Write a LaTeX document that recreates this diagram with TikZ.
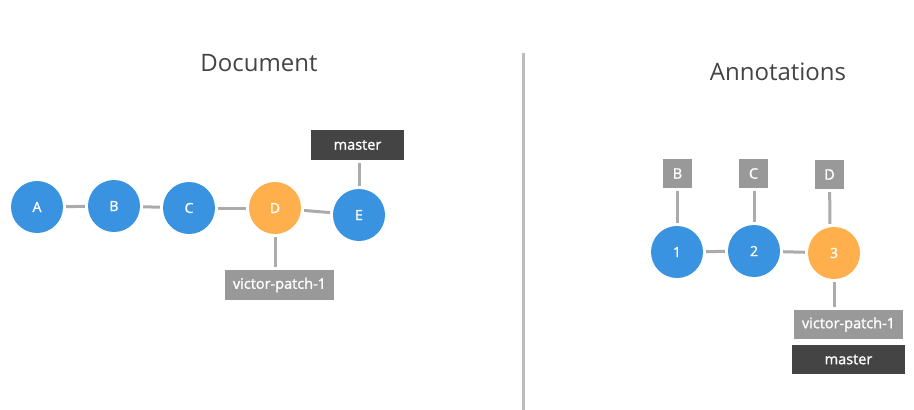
\documentclass[tikz,border=0pt]{standalone}
\usepackage{fontspec}
\setmainfont{Open Sans}
\newfontfamily\labelfont[FakeBold=1.3]{Open Sans}
\usepackage{tikz}
\definecolor{commitblue}{HTML}{3A93E0}
\definecolor{commitorange}{HTML}{FFB04C}
\definecolor{refgray}{HTML}{999999}
\definecolor{refdark}{HTML}{444444}
\definecolor{linkgray}{HTML}{ABABAB}
\definecolor{titlegray}{HTML}{444444}
\tikzset{
	commit/.style={circle, fill=commitblue, text=white, minimum size=52pt, inner sep=0pt, font=\labelfont\fontsize{14}{16}\selectfont},
	patched/.style={commit, fill=commitorange},
	refbox/.style={fill=refgray, text=white, minimum height=30pt, inner sep=0pt, font=\labelfont\fontsize{14.5}{16}\selectfont},
	headbox/.style={refbox, fill=refdark},
	link/.style={draw=linkgray, line width=3pt, shorten >=3pt, shorten <=3pt},
	title/.style={text=titlegray, font=\fontsize{24}{28}\selectfont}
}

\begin{document}
\begin{tikzpicture}[x=1pt, y=-1pt]
		\useasboundingbox (0,0) rectangle (914,410);
		%Titoli
		\node [title] (tdoc) at (259,63) {Document};
		\node [title] (tann) at (778,72) {Annotations};
		%Separatore
		\coordinate (septop) at (523,53);
		\coordinate (sepbot) at (523,410);
		\draw [draw=linkgray!80, line width=3pt] (septop) -- (sepbot);
		%Documento
		\node [commit] (A) at (37,207) {A};
		\node [commit] (B) at (114,206) {B};
		\node [commit] (C) at (189,208) {C};
		\node [patched] (D) at (275,208) {D};
		\node [commit] (E) at (359,215) {E};
		\node [headbox, minimum width=93pt] (mast) at (357.5,145) {master};
		\node [refbox, minimum width=109pt] (vp) at (279.5,285) {victor-patch-1};
		\draw [link] (A) -- (B);
		\draw [link] (B) -- (C);
		\draw [link] (C) -- (D);
		\draw [link] (D) -- (E);
		\draw [link] (E) -- (E |- mast.south);
		\draw [link] (D) -- (D |- vp.north);
		%Annotazioni
		\node [commit] (n1) at (677,252) {1};
		\node [commit] (n2) at (754,251) {2};
		\node [patched] (n3) at (834,253) {3};
		\node [refbox, minimum width=29pt, minimum height=29pt] (rB) at (677.5,173.5) {B};
		\node [refbox, minimum width=29pt, minimum height=29pt] (rC) at (753.5,173.5) {C};
		\node [refbox, minimum width=29pt, minimum height=29pt] (rD) at (829.5,174.5) {D};
		\node [refbox, minimum width=109pt, minimum height=29pt] (avp) at (848.5,324.5) {victor-patch-1};
		\node [headbox, minimum width=113pt, minimum height=29pt] (amast) at (848.5,359.5) {master};
		\draw [link] (n1) -- (n1 |- rB.south);
		\draw [link] (n2) -- (n2 |- rC.south);
		\draw [link] (n1) -- (n2);
		\draw [link] (n2) -- (n3);
		\draw [link] (n3) -- (n3 |- avp.north);
		\draw [link] ([xshift=-4pt]n3.north) -- (rD);
	\end{tikzpicture}
\end{document}
